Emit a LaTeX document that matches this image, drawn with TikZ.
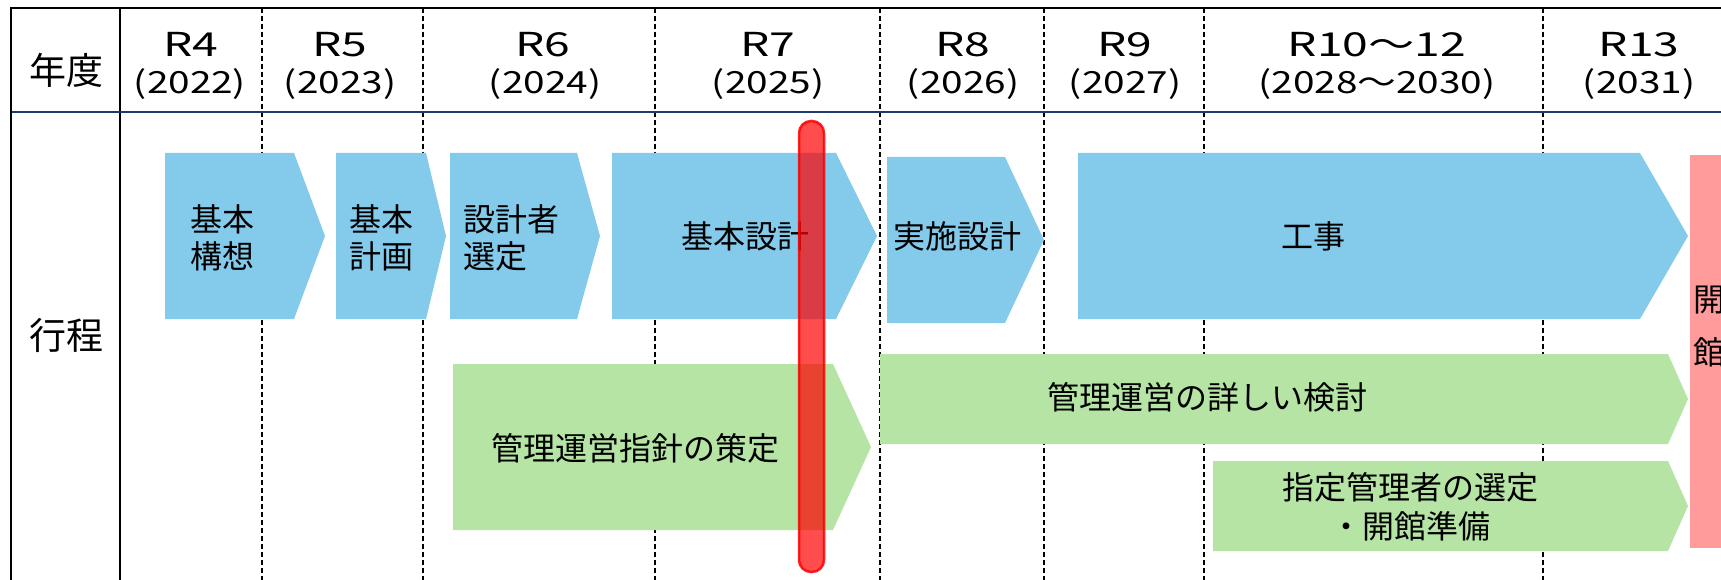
\documentclass[tikz,border=0pt]{standalone}
\usepackage{fontspec}
\setmainfont{Noto Sans CJK JP}
\newfontfamily\yearfont[FakeStretch=1.27]{Noto Sans CJK JP}
\newfontfamily\erafont[FakeStretch=1.4]{Noto Sans CJK JP}
\definecolor{barblue}{HTML}{84CAEB}
\definecolor{bargreen}{HTML}{B5E4A5}
\definecolor{openred}{HTML}{FF9B9B}
\definecolor{navyline}{HTML}{1F3A6E}
\tikzset{
  stage/.style={font=\fontsize{32}{37.5}\selectfont, inner sep=0pt, text=black},
  hdr/.style={font=\fontsize{37}{44}\selectfont, inner sep=0pt},
  era/.style={font=\erafont\fontsize{33}{38}\selectfont, inner sep=0pt},
  yr/.style={font=\yearfont\fontsize{30.5}{36}\selectfont, inner sep=0pt},
  gridsolid/.style={line width=1.3pt, black},
  griddash/.style={line width=1.3pt, black, dash pattern=on 5pt off 3pt},
  border/.style={line width=2.5pt, black},
}
\newcommand\chev[6]{\fill[#1] (#2,#3) -- (#4,#3) -- (#5,{(#3+#6)/2}) -- (#4,#6) -- (#2,#6) -- cycle;}
\begin{document}
\begin{tikzpicture}[x=1pt,y=-1pt]
\useasboundingbox (0,0) rectangle (1721,580);
\clip (0,0) rectangle (1721,580);
\fill[white] (0,0) rectangle (1721,580);
% grid
\foreach \gx in {262,423,655,880,1044,1204,1543}
  \draw[griddash] (\gx,8) -- (\gx,580);
\draw[gridsolid] (120,8) -- (120,580);
\draw[navyline, line width=2pt] (11,112) -- (1721,112);
\draw[border] (11,580) -- (11,8) -- (1721,8);
% header
\node[hdr] (nendo) at (66,70) {年度};
\node[hdr] (koutei) at (66,335) {行程};
\node[era] (r4) at (191,44.5) {R4};
\node[era] (r5) at (340,44.5) {R5};
\node[era] (r6) at (543,44.5) {R6};
\node[era] (r7) at (768,44.5) {R7};
\node[era] (r8) at (963,44.5) {R8};
\node[era] (r9) at (1125,44.5) {R9};
\node[era] (r10) at (1377,44.5) {R10～12};
\node[era] (r13) at (1639,44.5) {R13};
\node[yr] (y4) at (190,84) {(2022)};
\node[yr] (y5) at (340,84) {(2023)};
\node[yr] (y6) at (545,84) {(2024)};
\node[yr] (y7) at (768,84) {(2025)};
\node[yr] (y8) at (963,84) {(2026)};
\node[yr] (y9) at (1125,84) {(2027)};
\node[yr] (y10) at (1377,84) {(2028～2030)};
\node[yr] (y13) at (1639,84) {(2031)};
% blue stages
\chev{barblue}{165}{153}{294}{325}{319}
\chev{barblue}{336}{153}{426}{446}{319}
\chev{barblue}{450}{153}{577}{600}{319}
\chev{barblue}{612}{153}{836}{877}{319}
\chev{barblue}{887}{157}{1005}{1044}{323}
\chev{barblue}{1078}{153}{1640}{1688}{319}
% green stages
\chev{bargreen}{453}{364}{833}{871}{530}
\chev{bargreen}{880}{354}{1668}{1688}{444}
\chev{bargreen}{1213}{461}{1668}{1688}{551}
% opening
\fill[openred] (1690,155) rectangle (1740,548);
% texts
\node[stage, align=left, anchor=west] (kousou) at (190,238) {基本\\構想};
\node[stage, align=left, anchor=west] (keikaku) at (349,238) {基本\\計画};
\node[stage, align=left, anchor=west] (sentei) at (463,238) {設計者\\選定};
\node[stage] (kihon) at (745.5,236) {基本設計};
\node[stage] (jisshi) at (957,236) {実施設計};
\node[stage] (kouji) at (1313,236) {工事};
\node[stage] (shishin) at (635,448) {管理運営指針の策定};
\node[stage] (kentou) at (1207,397) {管理運営の詳しい検討};
\node[stage, align=center, font=\fontsize{32}{39}\selectfont] (shitei) at (1410,506.5) {指定管理者の選定\\・開館準備};
\node[stage, align=center, font=\fontsize{32}{53}\selectfont] (kaikan) at (1709,326.5) {開\\館};
% current marker
\filldraw[fill=red, fill opacity=0.7, draw=red, draw opacity=0.85, line width=2.5pt, rounded corners=12pt] (799,121) rectangle (824,572);
\end{tikzpicture}
\end{document}
